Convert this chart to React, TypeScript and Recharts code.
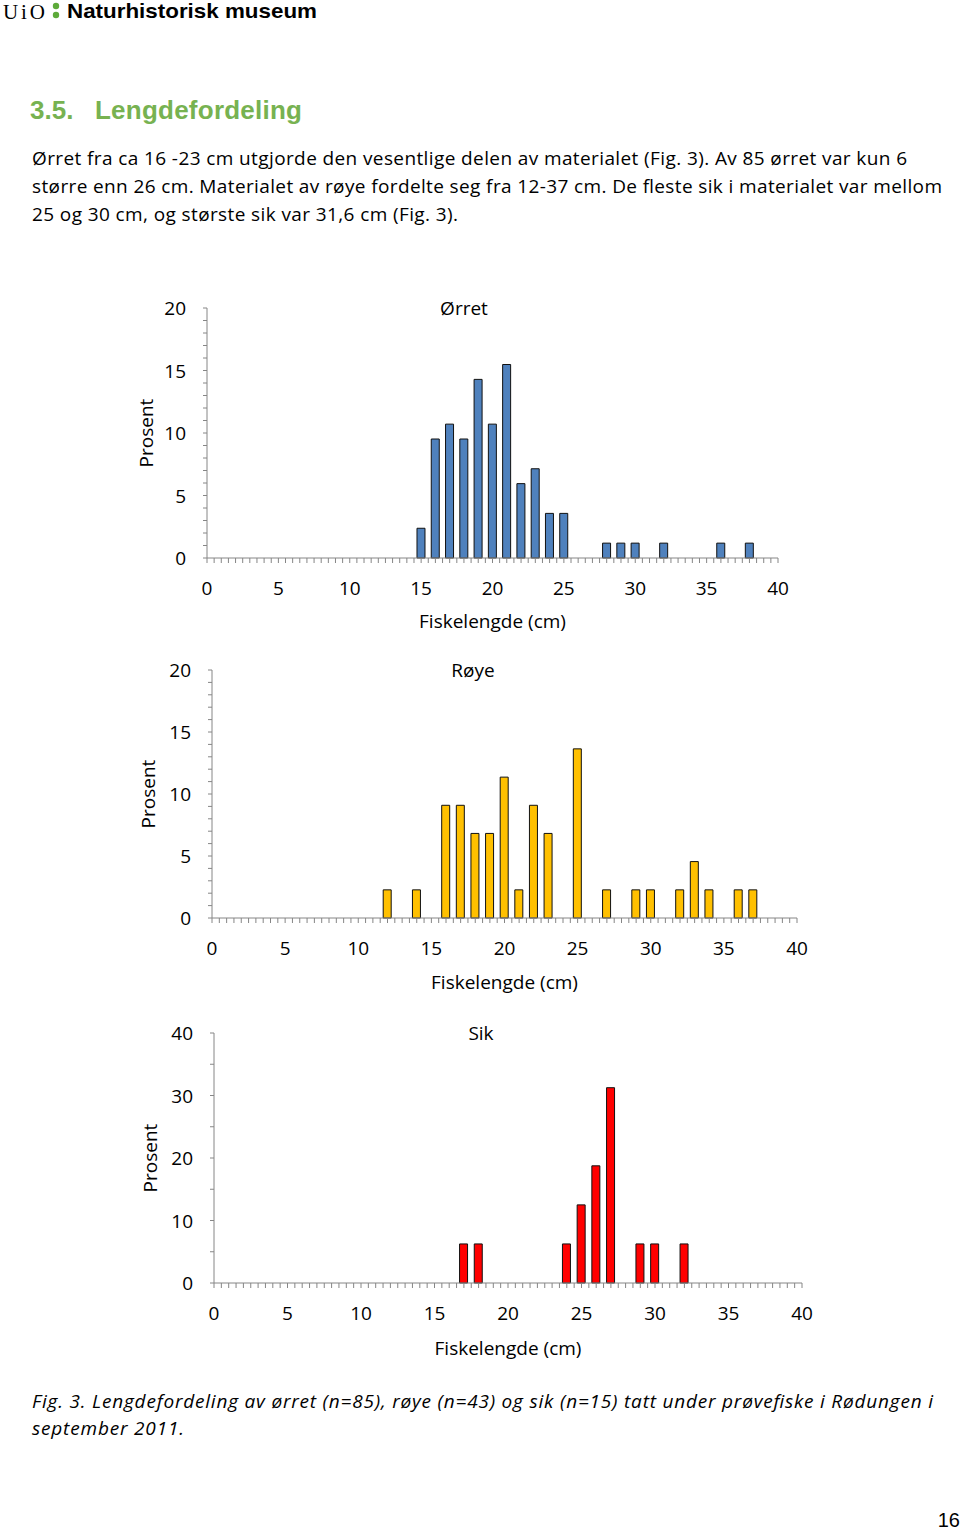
import { BarChart, Bar, XAxis, YAxis, Label } from 'recharts'

// Lengdefordeling, prosent per cm-klasse
const orretLengths = [15, 16, 17, 18, 19, 20, 21, 22, 23, 24, 25, 28, 29, 30, 32, 36, 38]
const orretPercent = [2.38, 9.52, 10.71, 9.52, 14.29, 10.71, 15.48, 5.95, 7.14, 3.57, 3.57, 1.19, 1.19, 1.19, 1.19, 1.19, 1.19]

const royeLengths = [12, 14, 16, 17, 18, 19, 20, 21, 22, 23, 25, 27, 29, 30, 32, 33, 34, 36, 37]
const royePercent = [2.27, 2.27, 9.09, 9.09, 6.82, 6.82, 11.36, 2.27, 9.09, 6.82, 13.64, 2.27, 2.27, 2.27, 2.27, 4.55, 2.27, 2.27, 2.27]

const sikLengths = [17, 18, 24, 25, 26, 27, 29, 30, 32]
const sikPercent = [6.25, 6.25, 6.25, 12.5, 18.75, 31.25, 6.25, 6.25, 6.25]

const xTickLabels = [0, 5, 10, 15, 20, 25, 30, 35, 40]

const FONT = '"Open Sans", sans-serif'
const AXIS = '#868686'
const FS = 19

type Box = {
  left: number; top: number; width: number; height: number
  plotLeft: number; plotRight: number; plotTop: number; plotBottom: number
}

function LengthChart({
  title, lengths, values, color, yMax, yMinor, yLabelStep, box, titleX, yLabelX, xLabelY,
}: {
  title: string; lengths: number[]; values: number[]; color: string
  yMax: number; yMinor: number; yLabelStep: number; box: Box
  titleX: number; yLabelX: number; xLabelY: number
}) {
  const data = lengths.map((len, i) => ({ len, pct: values[i] }))
  const yAxisW = 60
  const xAxisH = 60
  const margin = {
    top: box.plotTop - box.top,
    right: box.left + box.width - box.plotRight,
    left: box.plotLeft - box.left - yAxisW,
    bottom: box.top + box.height - box.plotBottom - xAxisH,
  }
  const xTicks: number[] = []
  for (let v = 0; v <= 40; v += 0.5) xTicks.push(v)
  const yTicks: number[] = []
  for (let v = 0; v <= yMax; v += yMinor) yTicks.push(v)

  // plot edges in chart coords
  const pl = box.plotLeft - box.left
  const pr = box.plotRight - box.left
  const pt = box.plotTop - box.top
  const pb = box.plotBottom - box.top
  const midY = (pt + pb) / 2

  const XTick = (p: any) =>
    xTickLabels.includes(p.payload.value) ? (
      <text x={p.x} y={pb + 30} textAnchor="middle" dominantBaseline="central"
        fontFamily={FONT} fontSize={FS} fill="#000">{p.payload.value}</text>
    ) : <g />

  const YTick = (p: any) =>
    p.payload.value % yLabelStep === 0 ? (
      <text x={pl - 21} y={p.y} textAnchor="end" dominantBaseline="central"
        fontFamily={FONT} fontSize={FS} fill="#000">{p.payload.value}</text>
    ) : <g />

  return (
    <div style={{ position: 'absolute', left: box.left, top: box.top }}>
      <BarChart width={box.width} height={box.height} data={data} margin={margin}>
        <XAxis type="number" dataKey="len" domain={[0, 40]} ticks={xTicks} interval={0}
          height={xAxisH} tickSize={5} axisLine={{ stroke: AXIS }} tickLine={{ stroke: AXIS }}
          tick={XTick} allowDataOverflow>
          <Label content={() => (
            <text x={(pl + pr) / 2} y={xLabelY - box.top} textAnchor="middle"
              dominantBaseline="central" fontFamily={FONT} fontSize={FS} fill="#000">
              Fiskelengde (cm)
            </text>
          )} />
          <Label content={() => (
            <text x={titleX - box.left} y={pt} textAnchor="middle" dominantBaseline="central"
              fontFamily={FONT} fontSize={FS} fill="#000">{title}</text>
          )} />
        </XAxis>
        <YAxis type="number" domain={[0, yMax]} ticks={yTicks} interval={0} width={yAxisW}
          tickSize={4} axisLine={{ stroke: AXIS }} tickLine={{ stroke: AXIS }} tick={YTick}>
          <Label content={() => (
            <text transform={`translate(${yLabelX - box.left}, ${midY}) rotate(-90)`}
              textAnchor="middle" dominantBaseline="central" fontFamily={FONT} fontSize={FS}
              fill="#000">Prosent</text>
          )} />
        </YAxis>
        <Bar dataKey="pct" fill={color} stroke="#111" strokeWidth={1} barSize={8}
          isAnimationActive={false} />
      </BarChart>
    </div>
  )
}

export default function App() {
  const green = '#77B251'
  return (
    <div style={{ position: 'absolute', left: 0, top: 0, width: 960, height: 1531, background: '#fff' }}>
      <svg width={960} height={1531} style={{ position: 'absolute', left: 0, top: 0 }}>
        <text x={3} y={19} fontFamily="Liberation Serif" fontSize={21} textLength={42}>UiO</text>
        <circle cx={56} cy={6} r={3.2} fill="#5DAA3A" />
        <circle cx={56} cy={15} r={3.2} fill="#5DAA3A" />
        <text x={67} y={18} fontFamily="Liberation Sans" fontWeight="bold" fontSize={21}
          textLength={250} lengthAdjust="spacingAndGlyphs">Naturhistorisk museum</text>

        <text x={30} y={119} fontFamily="Liberation Sans" fontWeight="bold" fontSize={26}
          fill={green}>3.5.</text>
        <text x={95} y={119} fontFamily="Liberation Sans" fontWeight="bold" fontSize={26}
          fill={green} textLength={207}>Lengdefordeling</text>

        <g fontFamily={FONT} fontSize={19} fill="#000">
          <text x={32} y={165} textLength={875}>Ørret fra ca 16 -23 cm utgjorde den vesentlige delen av materialet (Fig. 3). Av 85 ørret var kun 6</text>
          <text x={32} y={193} textLength={910}>større enn 26 cm. Materialet av røye fordelte seg fra 12-37 cm. De fleste sik i materialet var mellom</text>
          <text x={32} y={221} textLength={426}>25 og 30 cm, og største sik var 31,6 cm (Fig. 3).</text>
        </g>

        <g fontFamily={FONT} fontSize={19} fontStyle="italic" fill="#000">
          <text x={32} y={1408} textLength={901}>Fig. 3. Lengdefordeling av ørret (n=85), røye (n=43) og sik (n=15) tatt under prøvefiske i Rødungen i</text>
          <text x={32} y={1435} textLength={152}>september 2011.</text>
        </g>

        <text x={960} y={1527} textAnchor="end" fontFamily="Liberation Sans" fontSize={20}>16</text>
      </svg>

      <LengthChart title="Ørret" lengths={orretLengths} values={orretPercent} color="#4F81BD"
        yMax={20} yMinor={1} yLabelStep={5} titleX={464} yLabelX={146} xLabelY={621}
        box={{ left: 110, top: 290, width: 700, height: 360, plotLeft: 207, plotRight: 778, plotTop: 308, plotBottom: 558 }} />
      <LengthChart title="Røye" lengths={royeLengths} values={royePercent} color="#FFC000"
        yMax={20} yMinor={1} yLabelStep={5} titleX={473} yLabelX={148} xLabelY={982}
        box={{ left: 110, top: 640, width: 720, height: 360, plotLeft: 212, plotRight: 797, plotTop: 670, plotBottom: 918 }} />
      <LengthChart title="Sik" lengths={sikLengths} values={sikPercent} color="#FF0000"
        yMax={40} yMinor={5} yLabelStep={10} titleX={481} yLabelX={150} xLabelY={1348}
        box={{ left: 110, top: 1005, width: 720, height: 360, plotLeft: 214, plotRight: 802, plotTop: 1033, plotBottom: 1283 }} />
    </div>
  )
}
